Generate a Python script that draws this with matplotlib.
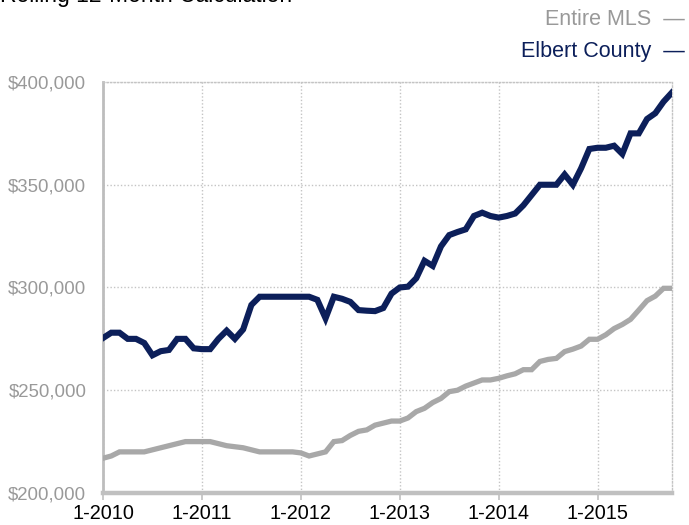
import matplotlib.pyplot as plt
import numpy as np

plt.rcParams['font.family'] = ['Liberation Sans', 'DejaVu Sans']

# monthly rolling 12-month median price, 1-2010 .. 10-2015 (thousands of $)
entire_mls = [
    216.9, 218, 220, 220, 220, 220, 221, 222, 223, 224,
    225, 225, 225, 225, 224, 223, 222.5, 222, 221, 220,
    220, 220, 220, 220, 219.5, 218, 219, 220, 225, 225.5,
    228, 230, 230.7, 233, 234, 235, 235, 236.5, 239.6, 241.2,
    244, 246, 249.3, 250, 252, 253.5, 255, 255, 255.8, 257,
    258, 260, 260, 264, 265, 265.5, 268.8, 270, 271.5, 274.8,
    274.8, 277, 280, 282, 284.5, 289, 293.6, 295.8, 299.6, 299.6,
]
elbert_county = [
    275.4, 278, 278, 275, 275, 273, 267, 269, 269.6, 275,
    275, 270.4, 270, 270, 275, 279, 275, 279.6, 291.5, 295.5,
    295.5, 295.5, 295.5, 295.5, 295.5, 295.5, 294, 285, 295.5, 294.5,
    293, 289, 288.7, 288.5, 290, 297, 300, 300.4, 304.5, 313,
    310.5, 320, 325.5, 327, 328.3, 334.8, 336.4, 334.8, 334, 334.8,
    336, 340, 345, 350, 350, 350, 355, 350, 358, 367.4,
    368, 368, 369, 365, 375, 375, 382, 384.8, 390.4, 394.8,
]
year_labels = ['1-2010', '1-2011', '1-2012', '1-2013', '1-2014', '1-2015']
y_ticks = [200000, 250000, 300000, 350000, 400000]

gray = '#a8a8a8'
navy = '#0c1f5a'

months = np.arange(len(entire_mls))

fig = plt.figure(figsize=(6.89, 5.25), dpi=100)
ax = fig.add_axes([0.1495, 0.061, 0.8255, 0.7828])

ax.plot(months, np.array(entire_mls) * 1000, color=gray, lw=3.8,
        solid_joinstyle='miter', zorder=3)
ax.plot(months, np.array(elbert_county) * 1000, color=navy, lw=4.4,
        solid_joinstyle='miter', zorder=4)

ax.set_xlim(0, len(months) - 1)
ax.set_ylim(200000, 400000)
ax.set_xticks(np.arange(len(year_labels)) * 12)
ax.set_xticklabels(year_labels, fontsize=14.3, color='black')
ax.set_yticks(y_ticks)
ax.set_yticklabels(['${:,}'.format(v) for v in y_ticks], fontsize=13.4,
                   color='#999999')

ax.grid(True, linestyle=(0, (1, 1.5)), color='#c4c4c4', lw=1)
ax.tick_params(axis='y', length=0, pad=12)
ax.tick_params(axis='x', length=5, width=1.2, color='#c0c0c0', pad=3)

for side in ['top', 'right']:
    ax.spines[side].set_linestyle((0, (1, 1.5)))
    ax.spines[side].set_color('#c4c4c4')
    ax.spines[side].set_linewidth(1)
ax.spines['left'].set_color('#bdbdbd')
ax.spines['left'].set_linewidth(2)
ax.spines['bottom'].set_color('#c0c0c0')
ax.spines['bottom'].set_linewidth(3.2)

# title sits mostly above the top edge, as in the source image
fig.text(0.0, 0.996, 'Rolling 12-Month Calculation', fontsize=16.5,
         color='black', va='baseline', ha='left')
fig.text(0.994, 0.962, 'Entire MLS  \u2014', fontsize=15.5, color='#999999',
         ha='right', va='center')
fig.text(0.994, 0.901, 'Elbert County  \u2014', fontsize=15.5, color=navy,
         ha='right', va='center')

fig.savefig('out.png', dpi=100)
